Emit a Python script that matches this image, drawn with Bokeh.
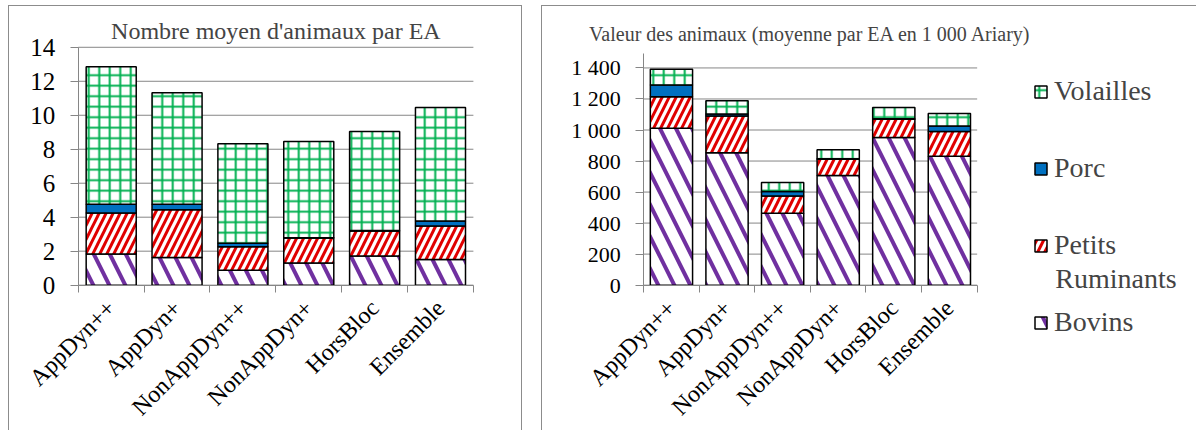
import numpy as np
from bokeh.plotting import figure
from bokeh.models import ColumnDataSource, FixedTicker, Legend, LegendItem, Range1d, Label
from bokeh.layouts import row
from bokeh.embed import file_html
from bokeh.resources import INLINE

# ---------------- data ----------------
categories = ["AppDyn++", "AppDyn+", "NonAppDyn++", "NonAppDyn+", "HorsBloc", "Ensemble"]
series = ["Bovins", "Petits", "Porc", "Volailles"]

# Nombre moyen d'animaux par EA
nb_bovins = [1.83, 1.63, 0.87, 1.30, 1.71, 1.51]
nb_petits = [2.42, 2.81, 1.39, 1.47, 1.48, 1.97]
nb_porc = [0.51, 0.32, 0.20, 0.02, 0.02, 0.30]
nb_volailles = [8.10, 6.57, 5.86, 5.66, 5.83, 6.68]

# Valeur des animaux (moyenne par EA en 1 000 Ariary)
val_bovins = [1012, 853, 463, 706, 952, 831]
val_petits = [203, 237, 112, 106, 118, 159]
val_porc = [75, 13, 28, 3, 3, 35]
val_volailles = [101, 86, 58, 57, 72, 82]

yticks_nb = [0, 2, 4, 6, 8, 10, 12, 14]
yticks_val = [0, 200, 400, 600, 800, 1000, 1200, 1400]
ylabels_val = ["0", "200", "400", "600", "800", "1 000", "1 200", "1 400"]

title_nb = "Nombre moyen d'animaux par EA"
title_val = "Valeur des animaux (moyenne par EA en 1 000 Ariary)"
legend_second_line = "Ruminants"

# ---------------- style ----------------
FONT = "Liberation Serif"
GRAY = "#868686"
BORDER = "1px solid #8c8c8c"
hatch_colors = ["#7030A0", "#E00000", "#0070C0", "#00B050"]
fill_colors = ["white", "white", "#0070C0", "white"]
patterns = ["\\", "/", None, "+"]
scales = [32, 14, 12, 10.5]
weights = [4, 3, 1, 2]
keys = ["bov", "pet", "porc", "vol"]
CONTENT_H = 424


def make(data, yticks, ylabels, y_axis_top, w, content_w, ox, oy, cat_px, unit_px,
         ytick_size, xtick_size, styles):
    """ox, oy: pixel position of the axes origin inside the canvas (from top-left)."""
    n = len(categories)
    xs = [i + 0.5 for i in range(n)]
    x_range = Range1d(-ox / cat_px, (content_w - ox) / cat_px)
    y_range = Range1d(-(CONTENT_H - oy) / unit_px, oy / unit_px)
    p = figure(width=w, height=CONTENT_H + 1, x_range=x_range, y_range=y_range,
               output_backend="svg", toolbar_location=None, min_border=0,
               styles=styles)
    p.outline_line_color = None
    p.grid.visible = False

    # horizontal gridlines limited to the bar area
    p.segment(x0=0, x1=n, y0=yticks, y1=yticks, line_color=GRAY, line_width=1)

    src = ColumnDataSource(dict(x=xs, **{k: v for k, v in zip(keys, data)}))
    rs = p.vbar_stack(keys, x="x", width=0.76, source=src,
                      fill_color=fill_colors, hatch_color=hatch_colors,
                      hatch_pattern=patterns, hatch_scale=scales,
                      hatch_weight=weights, line_color="black", line_width=1.5)

    xa = p.xaxis[0]
    xa.fixed_location = 0
    xa.bounds = (0, n)
    xa.ticker = FixedTicker(ticks=xs, minor_ticks=list(range(0, n + 1)))
    xa.major_label_overrides = {x: c for x, c in zip(xs, categories)}
    xa.major_label_orientation = np.pi / 4
    xa.major_tick_out = 0
    xa.major_tick_in = 0
    xa.minor_tick_out = 7
    xa.minor_tick_in = 0
    xa.minor_tick_line_color = GRAY
    xa.axis_line_color = GRAY
    xa.major_label_text_font = FONT
    xa.major_label_text_font_size = f"{xtick_size}px"
    xa.major_label_text_color = "black"
    xa.major_label_standoff = 12

    ya = p.yaxis[0]
    ya.fixed_location = 0
    ya.bounds = (0, y_axis_top)
    ya.ticker = FixedTicker(ticks=yticks)
    if ylabels is not None:
        ya.major_label_overrides = {t: l for t, l in zip(yticks, ylabels)}
    ya.major_tick_out = 8
    ya.major_tick_in = 0
    ya.minor_tick_out = 0
    ya.minor_tick_in = 0
    ya.major_tick_line_color = GRAY
    ya.axis_line_color = GRAY
    ya.major_label_text_font = FONT
    ya.major_label_text_font_size = f"{ytick_size}px"
    ya.major_label_text_color = "black"
    ya.major_label_standoff = 15
    return p, rs


# left chart: canvas content 512 px wide, axes origin at (68.5, 278)
p1, _ = make([nb_bovins, nb_petits, nb_porc, nb_volailles], yticks_nb, None, 14,
             514, 512, 68.5, 278, 65.6, 16.95, 25, 24,
             {"border": BORDER, "border-bottom": "none"})
p1.add_layout(Label(x=len(categories) / 2, y=(278 - 24) / 16.95, text=title_nb,
                    text_font=FONT, text_font_size="24px",
                    text_align="center", text_baseline="middle"))

# right chart: canvas content 654 px wide, axes origin at (101, 278)
R_CAT, R_UNIT = 55.5, 0.15479
p2, rs2 = make([val_bovins, val_petits, val_porc, val_volailles], yticks_val, ylabels_val, 1492,
               655, 654, 101, 278, R_CAT, R_UNIT, 22, 24,
               {"border": BORDER, "border-bottom": "none", "border-right": "none"})
p2.add_layout(Label(x=len(categories) / 2, y=(278 - 27) / R_UNIT, text=title_val,
                    text_font=FONT, text_font_size="20px",
                    text_align="center", text_baseline="middle"))

order = [3, 2, 1, 0]
items = [LegendItem(label=series[i], renderers=[rs2[i]]) for i in order]
leg = Legend(items=items, location=(491, 93), orientation="vertical",
             glyph_width=15, glyph_height=15, label_height=32, spacing=45,
             label_standoff=6, padding=0, margin=0,
             label_text_font=FONT, label_text_font_size="28px",
             border_line_alpha=0, background_fill_alpha=0)
p2.add_layout(leg, "center")
p2.add_layout(Label(x=(1054 - 643) / R_CAT, y=(284 - 277) / R_UNIT, text=legend_second_line,
                    text_font=FONT, text_font_size="28px",
                    text_align="left", text_baseline="middle"))

layout = row(p1, p2, spacing=19, margin=(5, 0, 0, 8))
open("out.html", "w").write(file_html(layout, INLINE))
